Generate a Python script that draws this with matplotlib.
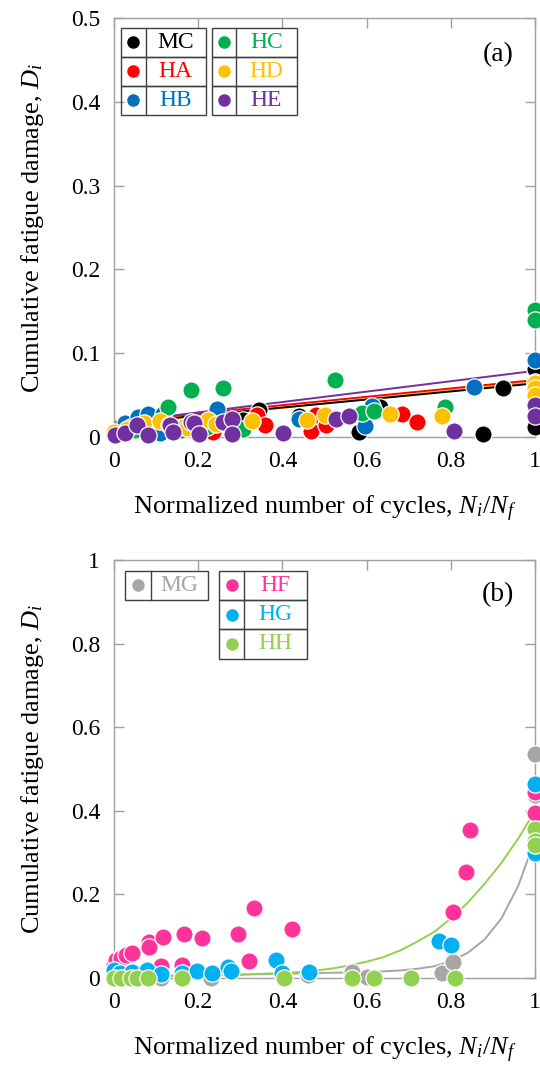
import numpy as np
import matplotlib.pyplot as plt
from matplotlib.patches import Rectangle

plt.rcParams['font.family'] = ['Liberation Serif', 'DejaVu Serif']
plt.rcParams['mathtext.fontset'] = 'custom'
plt.rcParams['mathtext.rm'] = 'Liberation Serif'
plt.rcParams['mathtext.it'] = 'Liberation Serif:italic'

# ---- panel (a) data ----
mc_x = [0.0, 0.02, 0.05, 0.1, 0.2, 0.307, 0.345, 0.44, 0.583, 0.632, 0.876, 0.925, 1.0, 1.0, 1.0]
mc_y = [0.002, 0.006, 0.010, 0.012, 0.016, 0.020, 0.032, 0.025, 0.006, 0.036, 0.004, 0.058, 0.012, 0.081, 0.060]
ha_x = [0.0, 0.03, 0.08, 0.15, 0.236, 0.24, 0.34, 0.359, 0.467, 0.481, 0.504, 0.683, 0.719, 1.0]
ha_y = [0.004, 0.008, 0.012, 0.010, 0.006, 0.018, 0.026, 0.014, 0.007, 0.026, 0.014, 0.028, 0.018, 0.066]
hb_x = [0.0, 0.027, 0.04, 0.058, 0.081, 0.11, 0.117, 0.16, 0.244, 0.44, 0.597, 0.612, 0.855, 1.0, 1.0, 1.0]
hb_y = [0.005, 0.017, 0.012, 0.024, 0.028, 0.005, 0.028, 0.008, 0.034, 0.021, 0.013, 0.037, 0.060, 0.092, 0.046, 0.036]
hc_x = [0.0, 0.05, 0.129, 0.169, 0.183, 0.22, 0.26, 0.307, 0.524, 0.59, 0.618, 0.786, 1.0, 1.0]
hc_y = [0.003, 0.008, 0.036, 0.012, 0.056, 0.012, 0.058, 0.010, 0.068, 0.029, 0.031, 0.036, 0.152, 0.140]
hd_x = [0.0, 0.03, 0.072, 0.109, 0.13, 0.173, 0.224, 0.243, 0.327, 0.459, 0.501, 0.656, 0.78, 1.0, 1.0, 1.0]
hd_y = [0.006, 0.010, 0.017, 0.019, 0.014, 0.011, 0.020, 0.015, 0.019, 0.020, 0.026, 0.027, 0.025, 0.064, 0.058, 0.050]
he_x = [0.002, 0.026, 0.054, 0.08, 0.134, 0.141, 0.183, 0.19, 0.202, 0.26, 0.28, 0.28, 0.402, 0.527, 0.559, 0.808, 1.0, 1.0]
he_y = [0.002, 0.005, 0.014, 0.002, 0.014, 0.006, 0.018, 0.017, 0.004, 0.018, 0.021, 0.004, 0.005, 0.022, 0.025, 0.007, 0.038, 0.025]

# fitted lines of panel (a), end points
fit_x = [0.0, 1.0]
fit_mc = [0.016, 0.064]
fit_ha = [0.018, 0.068]
fit_hd = [0.014, 0.066]
fit_he = [0.017, 0.079]

# ---- panel (b) data ----
mg_x = [0.0, 0.02, 0.05, 0.112, 0.23, 0.462, 0.566, 0.60, 0.78, 0.805, 1.0, 1.0, 1.0]
mg_y = [0.0, 0.002, 0.001, 0.0, 0.0, 0.007, 0.014, 0.002, 0.011, 0.039, 0.537, 0.438, 0.33]
hf_x = [0.0, 0.005, 0.016, 0.028, 0.042, 0.084, 0.084, 0.112, 0.117, 0.161, 0.167, 0.21, 0.295,
        0.321, 0.333, 0.422, 0.806, 0.835, 0.846, 1.0, 1.0, 1.0]
hf_y = [0.030, 0.042, 0.048, 0.055, 0.061, 0.087, 0.073, 0.029, 0.099, 0.031, 0.105, 0.095, 0.105,
        0.041, 0.167, 0.117, 0.159, 0.254, 0.354, 0.395, 0.454, 0.445]
hg_x = [0.0, 0.0, 0.015, 0.042, 0.079, 0.112, 0.161, 0.197, 0.232, 0.27, 0.279, 0.386, 0.40, 0.463,
        0.773, 0.80, 1.0, 1.0]
hg_y = [0.005, 0.018, 0.012, 0.015, 0.020, 0.010, 0.012, 0.017, 0.012, 0.027, 0.017, 0.043, 0.013, 0.015,
        0.089, 0.079, 0.464, 0.30]
hh_x = [0.0, 0.016, 0.040, 0.055, 0.081, 0.161, 0.405, 0.566, 0.618, 0.705, 0.81, 1.0, 1.0, 1.0]
hh_y = [0.0, 0.0, 0.0, 0.0, 0.0, 0.0, 0.001, 0.001, 0.0, 0.0, 0.001, 0.356, 0.328, 0.317]

# fitted curves of panel (b)
hh_fit_x = [0, 0.1, 0.2, 0.3, 0.4, 0.44, 0.48, 0.52, 0.56, 0.6, 0.64, 0.68, 0.72, 0.76, 0.8,
            0.84, 0.88, 0.92, 0.96, 1.0]
hh_fit_y = [0.003, 0.004, 0.006, 0.008, 0.012, 0.014, 0.018, 0.023, 0.030, 0.039, 0.050, 0.066,
            0.087, 0.110, 0.142, 0.180, 0.225, 0.275, 0.333, 0.40]
mg_fit_x = [0, 0.12, 0.28, 0.44, 0.6, 0.68, 0.72, 0.76, 0.8, 0.84, 0.88, 0.92, 0.96, 1.0]
mg_fit_y = [0.005, 0.006, 0.008, 0.011, 0.014, 0.018, 0.022, 0.028, 0.040, 0.060, 0.092, 0.142,
            0.220, 0.33]

xticks = [0, 0.2, 0.4, 0.6, 0.8, 1]
xtick_labels = ['0', '0.2', '0.4', '0.6', '0.8', '1']
yticks_a = [0, 0.1, 0.2, 0.3, 0.4, 0.5]
ytick_labels_a = ['0', '0.1', '0.2', '0.3', '0.4', '0.5']
yticks_b = [0, 0.2, 0.4, 0.6, 0.8, 1]
ytick_labels_b = ['0', '0.2', '0.4', '0.6', '0.8', '1']

col = {'MC': 'black', 'HA': '#ff0000', 'HB': '#0070c0', 'HC': '#00b050',
       'HD': '#ffc000', 'HE': '#7030a0', 'MG': '#a6a6a6', 'HF': '#ff3399',
       'HG': '#00b0f0', 'HH': '#92d050'}

fig = plt.figure(figsize=(5.4, 10.67), dpi=100)
ax1 = fig.add_axes([0.2111, 0.5904, 0.7796, 0.3927])
ax2 = fig.add_axes([0.2111, 0.0834, 0.7796, 0.3918])


def style(ax, yt, ytl, ymax):
    ax.set_xlim(0, 1)
    ax.set_ylim(0, ymax)
    ax.set_xticks(xticks)
    ax.set_xticklabels(xtick_labels)
    ax.set_yticks(yt)
    ax.set_yticklabels(ytl)
    for s in ax.spines.values():
        s.set_color('#a0a0a0')
        s.set_linewidth(1)
    ax.tick_params(direction='in', length=7, width=1, color='#a0a0a0',
                   top=True, right=True, labelsize=17, pad=10)
    ax.set_xlabel('Normalized number of cycles, $N_i$/$N_f$', fontsize=19, labelpad=16)
    ax.set_ylabel('Cumulative fatigue damage, $D_i$', fontsize=19, labelpad=18)


def table(ax, x0, x1, xd, ytop, rowh, names):
    for i, n in enumerate(names):
        y = ytop - (i + 1) * rowh
        ax.add_patch(Rectangle((x0, y), x1 - x0, rowh, transform=ax.transAxes,
                               fill=False, ec='#404040', lw=1, zorder=6))
        ax.plot([xd, xd], [y, y + rowh], color='#404040', lw=1, transform=ax.transAxes, zorder=6)
        ax.plot((x0 + xd) / 2, y + rowh / 2, 'o', ms=8, color=col[n], transform=ax.transAxes, zorder=6)
        ax.text((xd + x1) / 2, y + rowh / 2, n, color=col[n], fontsize=17,
                ha='center', va='center', transform=ax.transAxes, zorder=6)


def dots(ax, x, y, name):
    ax.scatter(x, y, s=155, color=col[name], edgecolors='white', linewidths=0.9,
               zorder=3, clip_on=False)


# (a)
ax1.plot(fit_x, fit_hd, color=col['HD'], lw=1.4, zorder=2)
ax1.plot(fit_x, fit_mc, color=col['MC'], lw=1.4, zorder=2)
ax1.plot(fit_x, fit_ha, color=col['HA'], lw=1.4, zorder=2)
ax1.plot(fit_x, fit_he, color=col['HE'], lw=1.4, zorder=2)
dots(ax1, mc_x, mc_y, 'MC')
dots(ax1, ha_x, ha_y, 'HA')
dots(ax1, hb_x, hb_y, 'HB')
dots(ax1, hc_x, hc_y, 'HC')
dots(ax1, hd_x, hd_y, 'HD')
dots(ax1, he_x, he_y, 'HE')
style(ax1, yticks_a, ytick_labels_a, 0.5)
table(ax1, 0.0166, 0.2185, 0.0753, 0.977, 0.0695, ['MC', 'HA', 'HB'])
table(ax1, 0.2328, 0.4347, 0.2891, 0.977, 0.0695, ['HC', 'HD', 'HE'])
ax1.text(0.912, 0.912, '(a)', fontsize=20, ha='center', va='center', transform=ax1.transAxes)

# (b)
ax2.plot(mg_fit_x, mg_fit_y, color=col['MG'], lw=1.4, zorder=2)
ax2.plot(hh_fit_x, hh_fit_y, color=col['HH'], lw=1.4, zorder=2)
dots(ax2, mg_x, mg_y, 'MG')
dots(ax2, hf_x, hf_y, 'HF')
dots(ax2, hg_x, hg_y, 'HG')
dots(ax2, hh_x, hh_y, 'HH')
style(ax2, yticks_b, ytick_labels_b, 1.0)
table(ax2, 0.0261, 0.2242, 0.0871, 0.9744, 0.0701, ['MG'])
table(ax2, 0.2501, 0.4591, 0.3094, 0.9744, 0.0701, ['HF', 'HG', 'HH'])
ax2.text(0.912, 0.916, '(b)', fontsize=20, ha='center', va='center', transform=ax2.transAxes)

fig.savefig('out.png', dpi=100)
